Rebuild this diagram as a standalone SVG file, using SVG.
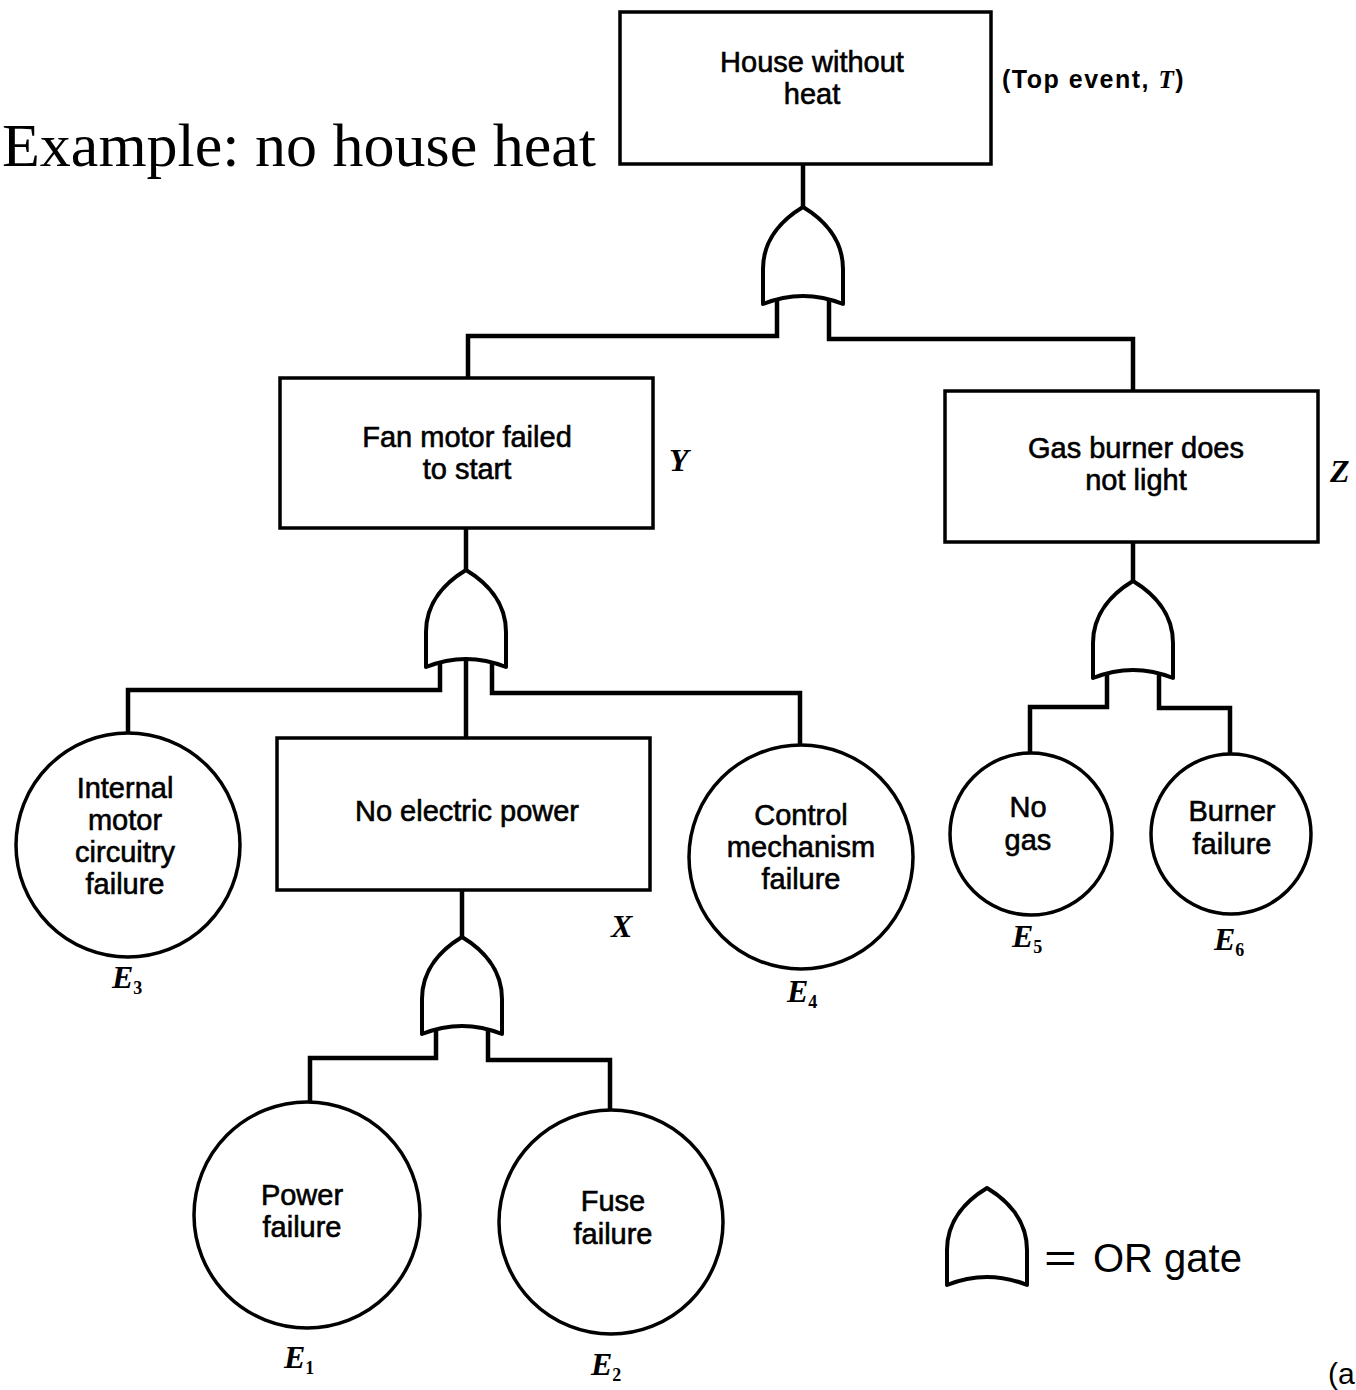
<svg xmlns="http://www.w3.org/2000/svg" xmlns:xlink="http://www.w3.org/1999/xlink" width="1356" height="1390" viewBox="0 0 1356 1390">
<style>
.box{fill:#fff;stroke:#000;stroke-width:3.5}
.ev{fill:#fff;stroke:#000;stroke-width:3.5}
.gate{fill:#fff;stroke:#000;stroke-width:4;stroke-linejoin:round}
.conn{fill:none;stroke:#000;stroke-width:4.5}
.t{font-family:"Liberation Sans",Arial,sans-serif;font-size:29px;fill:#000;stroke:#000;stroke-width:0.6;text-anchor:middle}
.lab{font-family:"Liberation Serif","Times New Roman",serif;font-weight:bold;font-style:italic;font-size:32px;fill:#000}
.sub{font-size:18px;font-style:normal}
</style>
<defs>
<path id="or" class="gate" d="M -40,97 L -40,62 C -40,32 -20,12 0,0 C 20,12 40,32 40,62 L 40,97 Q 0,81 -40,97 Z"/>
</defs>
<rect width="1356" height="1390" fill="#fff"/>
<text x="596" y="166" text-anchor="end" font-family="'Liberation Serif','Times New Roman',serif" font-size="62">Example: no house heat</text>
<g id="connectors">
<path class="conn" d="M 803,165 V 207"/>
<path class="conn" d="M 777,299 V 336 H 468 V 378"/>
<path class="conn" d="M 829,299 V 339 H 1133 V 391"/>
<path class="conn" d="M 466,528 V 570"/>
<path class="conn" d="M 440,662 V 690 H 128 V 733"/>
<path class="conn" d="M 492,662 V 693 H 800 V 746"/>
<path class="conn" d="M 466,659 V 738"/>
<path class="conn" d="M 1133,542 V 581"/>
<path class="conn" d="M 1107,673 V 707 H 1030 V 752"/>
<path class="conn" d="M 1159,673 V 708 H 1230 V 755"/>
<path class="conn" d="M 462,890 V 937"/>
<path class="conn" d="M 436,1029 V 1058 H 310 V 1102"/>
<path class="conn" d="M 488,1029 V 1060 H 610 V 1110"/>
</g>
<g id="gate-T"><use xlink:href="#or" href="#or" x="803" y="207"/></g>
<g id="gate-Y"><use xlink:href="#or" href="#or" x="466" y="570"/></g>
<g id="gate-Z"><use xlink:href="#or" href="#or" x="1133" y="581"/></g>
<g id="gate-X"><use xlink:href="#or" href="#or" x="462" y="937"/></g>
<g id="node-T">
<rect class="box" x="620" y="12" width="371" height="152"/>
<text class="t" x="812" y="72">House without</text>
<text class="t" x="812" y="104">heat</text>
<text x="1002" y="88" font-family="'Liberation Sans',Arial,sans-serif" font-weight="bold" font-size="25" letter-spacing="1.5">(Top event, <tspan font-family="'Liberation Serif',serif" font-style="italic">T</tspan>)</text>
</g>
<g id="node-Y">
<rect class="box" x="280" y="378" width="373" height="150"/>
<text class="t" x="467" y="447">Fan motor failed</text>
<text class="t" x="467" y="479">to start</text>
<text class="lab" x="669" y="471">Y</text>
</g>
<g id="node-Z">
<rect class="box" x="945" y="391" width="373" height="151"/>
<text class="t" x="1136" y="458">Gas burner does</text>
<text class="t" x="1136" y="490">not light</text>
<text class="lab" x="1330" y="482">Z</text>
</g>
<g id="node-X">
<rect class="box" x="277" y="738" width="373" height="152"/>
<text class="t" x="467" y="821">No electric power</text>
<text class="lab" x="611" y="937">X</text>
</g>
<g id="node-E3">
<circle class="ev" cx="128" cy="845" r="112"/>
<text class="t" x="125" y="798">Internal</text>
<text class="t" x="125" y="830">motor</text>
<text class="t" x="125" y="862">circuitry</text>
<text class="t" x="125" y="894">failure</text>
<text class="lab" x="112" y="988">E<tspan class="sub" dy="6">3</tspan></text>
</g>
<g id="node-E4">
<circle class="ev" cx="801" cy="857" r="112"/>
<text class="t" x="801" y="825">Control</text>
<text class="t" x="801" y="857">mechanism</text>
<text class="t" x="801" y="889">failure</text>
<text class="lab" x="787" y="1002">E<tspan class="sub" dy="6">4</tspan></text>
</g>
<g id="node-E5">
<circle class="ev" cx="1031" cy="834" r="81"/>
<text class="t" x="1028" y="817">No</text>
<text class="t" x="1028" y="850">gas</text>
<text class="lab" x="1012" y="947">E<tspan class="sub" dy="6">5</tspan></text>
</g>
<g id="node-E6">
<circle class="ev" cx="1231" cy="834" r="80"/>
<text class="t" x="1232" y="821">Burner</text>
<text class="t" x="1232" y="854">failure</text>
<text class="lab" x="1214" y="950">E<tspan class="sub" dy="6">6</tspan></text>
</g>
<g id="node-E1">
<circle class="ev" cx="307" cy="1215" r="113"/>
<text class="t" x="302" y="1205">Power</text>
<text class="t" x="302" y="1237">failure</text>
<text class="lab" x="284" y="1368">E<tspan class="sub" dy="6">1</tspan></text>
</g>
<g id="node-E2">
<circle class="ev" cx="611" cy="1222" r="112"/>
<text class="t" x="613" y="1211">Fuse</text>
<text class="t" x="613" y="1244">failure</text>
<text class="lab" x="591" y="1375">E<tspan class="sub" dy="6">2</tspan></text>
</g>
<g id="legend">
<use xlink:href="#or" href="#or" x="987" y="1188"/>
<text x="1044" y="1272" font-family="'Liberation Sans',Arial,sans-serif" font-size="40" transform="translate(1044,0) scale(1.4,1) translate(-1044,0)">=</text>
<text x="1093" y="1272" font-family="'Liberation Sans',Arial,sans-serif" font-size="40">OR gate</text>
</g>
<text x="1328" y="1384" font-family="'Liberation Sans',Arial,sans-serif" font-size="30">(a</text>
</svg>
